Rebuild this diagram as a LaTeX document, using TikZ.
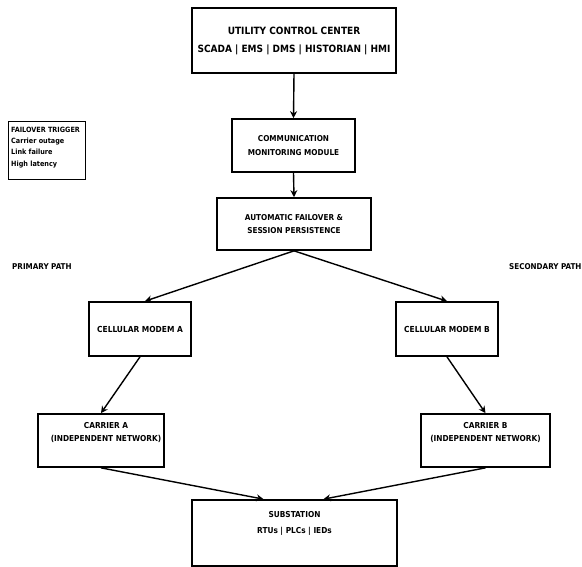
\documentclass[tikz,border=0pt]{standalone}
\usepackage{fontspec}
\setmainfont{DejaVu Sans Condensed}[BoldFont={DejaVu Sans Condensed Bold}]
\usetikzlibrary{arrows.meta,calc}
\begin{document}
\begin{tikzpicture}[x=1pt,y=-1pt,
  box/.style={draw,line width=1.7pt,inner sep=0pt,align=center},
  txt/.style={inner sep=0pt,align=center,font=\bfseries\fontsize{8.2}{13}\selectfont},
  arr/.style={line width=1.4pt,-{Stealth[length=7pt,width=7pt]}},
  lbl/.style={font=\bfseries\fontsize{8}{9}\selectfont,inner sep=0pt}]
\useasboundingbox (0,0) rectangle (582,567);
\node[box,minimum width=204pt,minimum height=65pt,font=\bfseries\fontsize{10}{18}\selectfont] (ucc) at (294,40.5) {UTILITY CONTROL CENTER\\SCADA | EMS | DMS | HISTORIAN | HMI};
\node[box,minimum width=123pt,minimum height=53pt,font=\bfseries\fontsize{8.1}{14.5}\selectfont] (cmm) at (293.5,145.5) {COMMUNICATION\\MONITORING MODULE};
\node[box,minimum width=154pt,minimum height=52pt,font=\bfseries\fontsize{8.1}{13}\selectfont] (afs) at (294,224) {AUTOMATIC FAILOVER \&\\SESSION PERSISTENCE};
\node[draw,line width=0.6pt,minimum width=77pt,minimum height=58pt,inner sep=0pt] (trg) at (46.5,150) {};
\node[anchor=north west,inner sep=0pt,align=left,font=\bfseries\fontsize{7.2}{11.2}\selectfont] (trgt) at (11,127) {FAILOVER TRIGGER\\Carrier outage\\Link failure\\High latency};
\node[lbl,anchor=west] (pp) at (12,267) {PRIMARY PATH};
\node[lbl,anchor=west] (sp) at (509,267) {SECONDARY PATH};
\node[box,minimum width=102pt,minimum height=54pt,font=\bfseries\fontsize{8.3}{13}\selectfont] (ma) at (140,329) {CELLULAR MODEM A};
\node[box,minimum width=102pt,minimum height=54pt,font=\bfseries\fontsize{8.3}{13}\selectfont] (mb) at (447,329) {CELLULAR MODEM B};
\node[box,minimum width=126pt,minimum height=53pt] (ca) at (101,440.5) {};
\node[txt,anchor=north] (cat) at (106,422) {CARRIER A\\(INDEPENDENT NETWORK)};
\node[box,minimum width=129pt,minimum height=53pt] (cb) at (485.5,440.5) {};
\node[txt,anchor=north] (cbt) at (485.5,422) {CARRIER B\\(INDEPENDENT NETWORK)};
\node[box,minimum width=205pt,minimum height=66pt] (sub) at (294.5,533) {};
\node[txt,anchor=north,font=\bfseries\fontsize{8.2}{16}\selectfont] (subt) at (294.5,511) {SUBSTATION\\RTUs | PLCs | IEDs};
\draw[arr] (ucc.south) -- (cmm.north);
\draw[arr] (cmm.south) -- (afs.north);
\draw[arr] (afs.south) -- ($(ma.north)+(5,0)$);
\draw[arr] (afs.south) -- (mb.north);
\draw[arr] (ma.south) -- (ca.north);
\draw[arr] (mb.south) -- (cb.north);
\draw[arr] (ca.south) -- ($(sub.north)+(-31,0)$);
\draw[arr] (cb.south) -- ($(sub.north)+(29,0)$);
\end{tikzpicture}
\end{document}
